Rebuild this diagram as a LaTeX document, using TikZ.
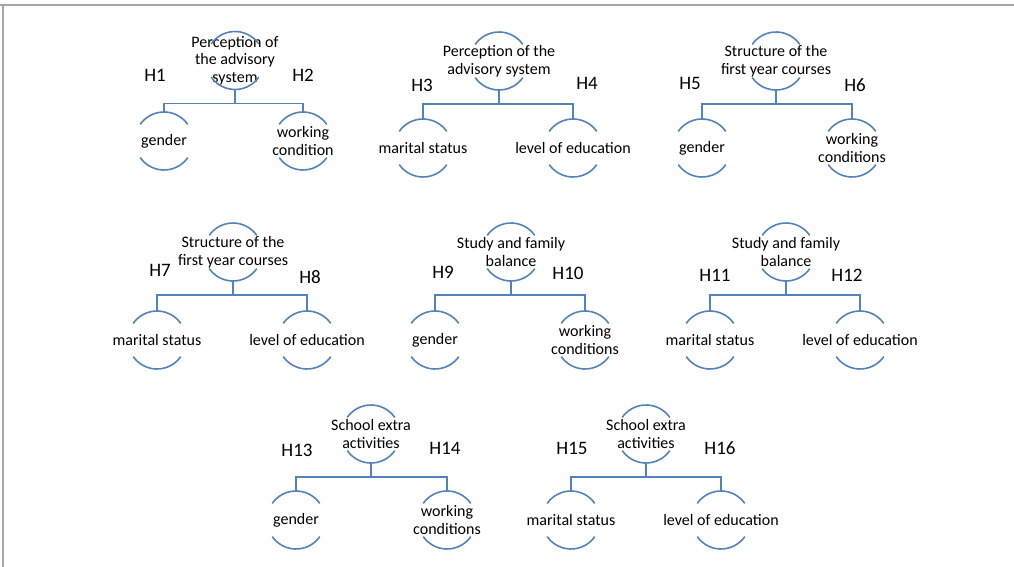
\documentclass[tikz,border=0pt]{standalone}
\usepackage{fontspec}
\setmainfont{Carlito}
\usepackage{tikz}
\usepackage{xcolor}
\usetikzlibrary{calc,positioning}
\definecolor{arcblue}{RGB}{84,130,186}
\definecolor{framegray}{RGB}{166,166,166}

\begin{document}
\begin{tikzpicture}[x=1pt, y=1pt,
    txt/.style={align=center, inner sep=0pt, font=\fontsize{16}{17.5}\selectfont},
    hyp/.style={inner sep=0pt, font=\fontsize{19}{20}\selectfont},
    curve/.style={draw=arcblue, line width=1.6pt},
    link/.style={draw=arcblue, line width=1.6pt},
    frame/.style={draw=framegray, line width=2pt}]
\useasboundingbox (0,0) rectangle (1014,-567);
\draw[frame] (0,-5.5) -- (1014,-5.5) (2.5,-5.5) -- (2.5,-567);
% first row
\node[txt] (t1) at (235,-60.5) {Perception of\\the advisory\\system};
\node[txt] (a1) at (164,-141) {gender};
\node[txt] (b1) at (303,-141) {working\\condition};
\node[txt] (t2) at (499,-61) {Perception of the\\advisory system};
\node[txt] (a2) at (423,-148) {marital status};
\node[txt] (b2) at (573,-148) {level of education};
\node[txt] (t3) at (776,-61) {Structure of the\\first year courses};
\node[txt] (a3) at (702,-148) {gender};
\node[txt] (b3) at (852,-148) {working\\conditions};
% second row
\node[txt] (t4) at (233,-252) {Structure of the\\first year courses};
\node[txt] (a4) at (157,-340) {marital status};
\node[txt] (b4) at (307,-340) {level of education};
\node[txt] (t5) at (511,-252) {Study and family\\balance};
\node[txt] (a5) at (435,-340) {gender};
\node[txt] (b5) at (585,-340) {working\\conditions};
\node[txt] (t6) at (786,-252) {Study and family\\balance};
\node[txt] (a6) at (710,-340) {marital status};
\node[txt] (b6) at (860,-340) {level of education};
% third row
\node[txt] (t7) at (371,-434) {School extra\\activities};
\node[txt] (a7) at (296,-520) {gender};
\node[txt] (b7) at (447,-520) {working\\conditions};
\node[txt] (t8) at (646,-434) {School extra\\activities};
\node[txt] (a8) at (571,-520) {marital status};
\node[txt] (b8) at (721,-520) {level of education};
% hypotheses
\node[hyp] (h1) at (155,-75) {H1};
\node[hyp] (h2) at (303,-75) {H2};
\node[hyp] (h3) at (422,-85) {H3};
\node[hyp] (h4) at (587,-83) {H4};
\node[hyp] (h5) at (690,-83) {H5};
\node[hyp] (h6) at (855,-85) {H6};
\node[hyp] (h7) at (160,-270) {H7};
\node[hyp] (h8) at (310,-277) {H8};
\node[hyp] (h9) at (443,-272) {H9};
\node[hyp] (h10) at (568,-273) {H10};
\node[hyp] (h11) at (715,-275) {H11};
\node[hyp] (h12) at (847,-275) {H12};
\node[hyp] (h13) at (297,-450) {H13};
\node[hyp] (h14) at (445,-448) {H14};
\node[hyp] (h15) at (572,-448) {H15};
\node[hyp] (h16) at (720,-448) {H16};
% bracket arcs round every node
\foreach \n in {t1,a1,b1,t2,a2,b2,t3,a3,b3,t4,a4,b4,t5,a5,b5,t6,a6,b6,t7,a7,b7,t8,a8,b8} {
    \draw[curve] ([shift={(35:29pt)}]\n.center) arc[start angle=35, end angle=145, radius=29pt];
    \draw[curve] ([shift={(215:29pt)}]\n.center) arc[start angle=215, end angle=325, radius=29pt];
    \coordinate (\n-n) at ([yshift=29pt]\n.center);
    \coordinate (\n-s) at ([yshift=-29pt]\n.center);
}
% connectors
\foreach \t/\a/\b in {t1/a1/b1, t2/a2/b2, t3/a3/b3, t4/a4/b4, t5/a5/b5, t6/a6/b6, t7/a7/b7, t8/a8/b8}
    \draw[link] (\t-s) -- ++(0,-14) -| (\a-n)
                (\t-s) -- ++(0,-14) -| (\b-n);
\end{tikzpicture}
\end{document}
